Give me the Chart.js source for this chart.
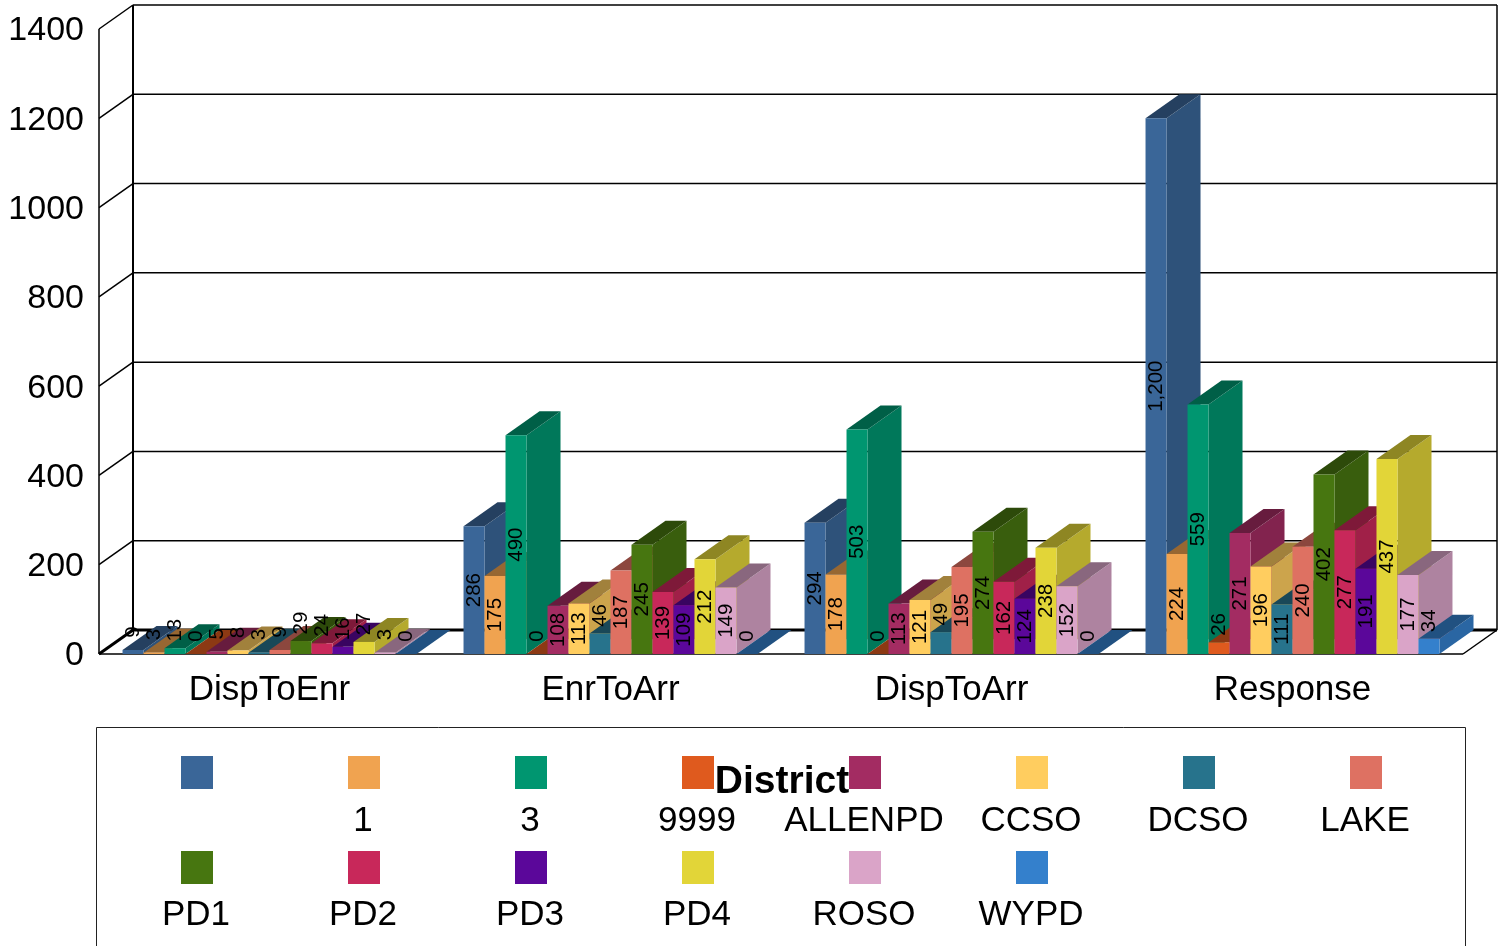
<!DOCTYPE html>
<html>
<head>
<meta charset="utf-8">
<title>District</title>
<script src="https://cdn.jsdelivr.net/npm/chart.js@4"></script>
<style>
    body { margin: 0; background: #fff; }
    canvas { display: block; }
</style>
</head>
<body>
<canvas id="grafico" width="1504" height="946"></canvas>
<script>
const categorias = ['DispToEnr', 'EnrToArr', 'DispToArr', 'Response'];
const distritos = ['', '1', '3', '9999', 'ALLENPD', 'CCSO', 'DCSO', 'LAKE', 'PD1', 'PD2', 'PD3', 'PD4', 'ROSO', 'WYPD'];
const cores = ['#3a6698', '#f0a350', '#009670', '#df5a1e', '#a32c62', '#ffcd5f', '#27738c', '#de7162', '#477610', '#c8285a', '#5b079a', '#e2d538', '#daa4c8', '#3480cc'];

const semNome = [9, 286, 294, 1200];
const d1 = [3, 175, 178, 224];
const d3 = [13, 490, 503, 559];
const d9999 = [0, 0, 0, 26];
const allenpd = [5, 108, 113, 271];
const ccso = [8, 113, 121, 196];
const dcso = [3, 46, 49, 111];
const lake = [9, 187, 195, 240];
const pd1 = [29, 245, 274, 402];
const pd2 = [24, 139, 162, 277];
const pd3 = [16, 109, 124, 191];
const pd4 = [27, 212, 238, 437];
const roso = [3, 149, 152, 177];
const wypd = [0, 0, 0, 34];
const series = [semNome, d1, d3, d9999, allenpd, ccso, dcso, lake, pd1, pd2, pd3, pd4, roso, wypd];

const FONTE = '"Liberation Sans", Arial, sans-serif';
const DX = 34; // profundidade do efeito 3D
const DY = 24;

// Escurece uma cor hex para as faces laterais
function sombra(hex, f) {
    const n = parseInt(hex.slice(1), 16);
    const r = Math.round((n >> 16) * f);
    const g = Math.round(((n >> 8) & 255) * f);
    const b = Math.round((n & 255) * f);
    return `rgb(${r},${g},${b})`;
}

function poligono(ctx, pontos, cor) {
    ctx.fillStyle = cor;
    ctx.beginPath();
    pontos.forEach((p, i) => i ? ctx.lineTo(p[0], p[1]) : ctx.moveTo(p[0], p[1]));
    ctx.closePath();
    ctx.fill();
}

function linha(ctx, x1, y1, x2, y2, larg) {
    ctx.lineWidth = larg;
    ctx.strokeStyle = '#000';
    ctx.beginPath();
    ctx.moveTo(x1, y1);
    ctx.lineTo(x2, y2);
    ctx.stroke();
}

// Paredes, grade e barras: as barras saem da esquerda para a direita
const paredes = {
    id: 'paredes',
    beforeDatasetsDraw(chart) {
        const { ctx, chartArea: a, scales: { y } } = chart;
        ctx.save();
        y.ticks.forEach(t => {
            const py = y.getPixelForValue(t.value);
            const larg = t.value === 0 ? 3 : 1.5;
            linha(ctx, a.left, py, a.left + DX, py - DY, larg);
            linha(ctx, a.left + DX, py - DY, a.right + DX, py - DY, larg);
        });
        linha(ctx, a.left, a.top, a.left, a.bottom, 1.5);
        linha(ctx, a.left + DX, a.top - DY, a.left + DX, a.bottom - DY, 2);
        linha(ctx, a.right + DX, a.top - DY, a.right + DX, a.bottom - DY, 1.5);
        linha(ctx, a.left, a.bottom, a.right, a.bottom, 1.5);
        linha(ctx, a.right, a.bottom, a.right + DX, a.bottom - DY, 1.5);

        chart.data.datasets.forEach((ds, i) => {
            const meta = chart.getDatasetMeta(i);
            meta.data.forEach(b => {
                const esq = b.x - b.width / 2;
                const dir = b.x + b.width / 2;
                poligono(ctx, [[dir, b.y], [dir + DX, b.y - DY], [dir + DX, b.base - DY], [dir, b.base]], sombra(cores[i], 0.8));
                poligono(ctx, [[esq, b.y], [esq + DX, b.y - DY], [dir + DX, b.y - DY], [dir, b.y]], sombra(cores[i], 0.63));
            });
            meta.controller.draw();
        });
        ctx.restore();
    },
    beforeDatasetDraw() {
        return false; // já desenhado acima
    },
    afterDatasetsDraw(chart) {
        const ctx = chart.ctx;
        ctx.save();
        ctx.font = '20.5px ' + FONTE;
        ctx.fillStyle = '#000';
        ctx.textAlign = 'center';
        ctx.textBaseline = 'middle';
        chart.data.datasets.forEach((ds, i) => {
            chart.getDatasetMeta(i).data.forEach((b, j) => {
                const texto = ds.data[j].toLocaleString('en-US');
                const altura = b.base - b.y;
                const cy = altura > ctx.measureText(texto).width + 6 ? (b.y + b.base) / 2 : b.y - 18;
                ctx.save();
                ctx.translate(b.x, cy);
                ctx.rotate(-Math.PI / 2);
                ctx.fillText(texto, 0, 0);
                ctx.restore();
            });
        });
        ctx.restore();
    }
};

// Legenda com a amostra acima do texto, em 8 colunas
const legenda = {
    id: 'legenda',
    afterDraw(chart) {
        const ctx = chart.ctx;
        ctx.save();
        ctx.strokeStyle = '#222';
        ctx.lineWidth = 1;
        ctx.beginPath();
        ctx.moveTo(96.5, 946);
        ctx.lineTo(96.5, 727.5);
        ctx.lineTo(1465.5, 727.5);
        ctx.lineTo(1465.5, 946);
        ctx.stroke();

        ctx.textAlign = 'center';
        ctx.textBaseline = 'middle';
        distritos.forEach((nome, i) => {
            const col = i % 8;
            const lin = Math.floor(i / 8);
            const cx = 197 + col * 167;
            ctx.fillStyle = cores[i];
            ctx.fillRect(cx - 16, 756 + lin * 95, 32, 33);
            ctx.fillStyle = '#000';
            ctx.font = '35px ' + FONTE;
            ctx.fillText(nome, cx - 1, 821 + lin * 94.5);
        });

        ctx.font = 'bold 39px ' + FONTE;
        ctx.fillText('District', 782, 782);
        ctx.restore();
    }
};

const datasets = series.map((valores, i) => ({
    label: distritos[i],
    data: valores,
    backgroundColor: cores[i],
    borderWidth: 0
}));

new Chart(document.getElementById('grafico'), {
    type: 'bar',
    data: { labels: categorias, datasets },
    options: {
        responsive: false,
        animation: false,
        categoryPercentage: 0.862,
        barPercentage: 1,
        layout: { padding: { top: 29, right: 41 } },
        plugins: { legend: { display: false }, tooltip: { enabled: false } },
        scales: {
            x: {
                grid: { display: false },
                border: { display: false },
                ticks: { color: '#000', font: { family: FONTE, size: 35 }, padding: 7, maxRotation: 0 },
                afterFit(s) { s.height = 292; }
            },
            y: {
                min: 0,
                max: 1400,
                grid: { display: false, drawTicks: false },
                border: { display: false },
                ticks: { stepSize: 200, color: '#000', font: { family: FONTE, size: 34 }, padding: 15, labelOffset: 2, callback: v => String(v) },
                afterFit(s) {
                    s.width = 99;
                    s.paddingTop = 0; // senão o Chart.js soma o padding do rótulo no topo
                    s.paddingBottom = 0;
                }
            }
        }
    },
    plugins: [paredes, legenda]
});
</script>
</body>
</html>
